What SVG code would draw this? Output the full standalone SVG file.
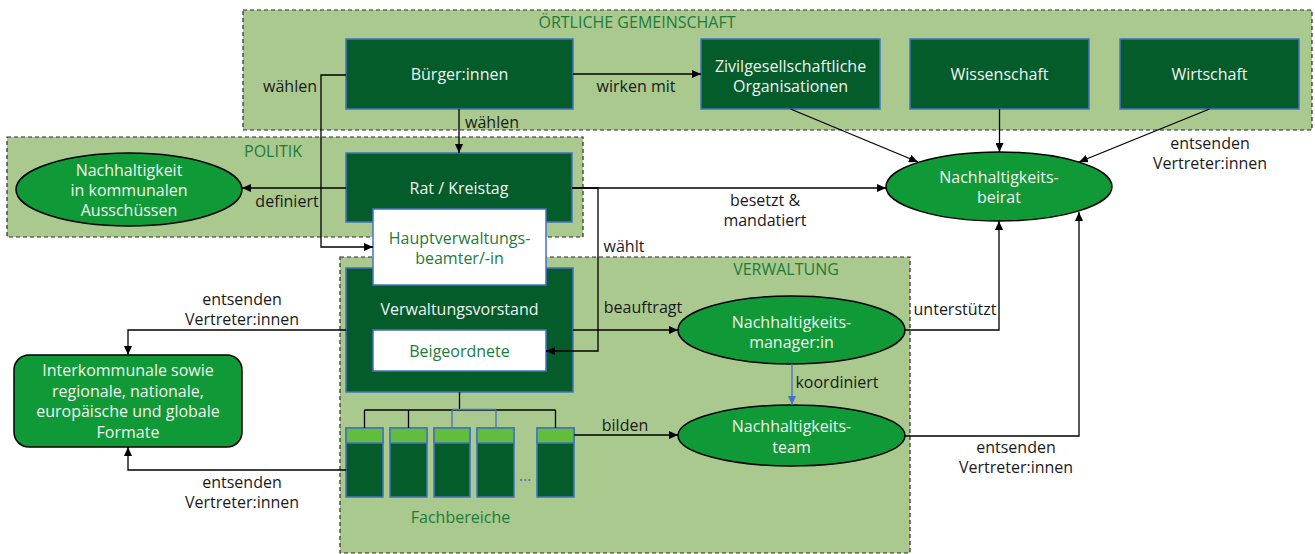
<svg xmlns="http://www.w3.org/2000/svg" width="1315" height="554" viewBox="0 0 1315 554">
<defs>
<marker id="arr" markerUnits="userSpaceOnUse" markerWidth="9" markerHeight="8" refX="9" refY="4" orient="auto"><path d="M0,0 L9,4 L0,8 z" fill="#000"/></marker>
<marker id="arrB" markerUnits="userSpaceOnUse" markerWidth="9" markerHeight="8" refX="9" refY="4" orient="auto"><path d="M0,0 L9,4 L0,8 z" fill="#4472C4"/></marker>
<style>
text{font-family:"Open Sans","Noto Sans","DejaVu Sans",sans-serif;font-size:16px;text-anchor:middle}
.region{fill:#A9C98E;stroke:#2b2b2b;stroke-width:1.2;stroke-dasharray:4 3}
.title{fill:#1E7B3A}
.box{fill:#035C2A;stroke:#4472C4;stroke-width:1.5}
.wbox{fill:#FFFFFF;stroke:#4472C4;stroke-width:1.5}
.ell{fill:#109A37;stroke:#000;stroke-width:1.5}
.wt{fill:#F2F2F2}
.gt{fill:#1E7B3A}
.lbl{fill:#1a1a1a}
.hdr{fill:#62BD3C;stroke:#4472C4;stroke-width:1.5}
.conn path{fill:none;stroke:#000;stroke-width:1.3}
.conn path.a{marker-end:url(#arr)}
.conn path.blue{stroke:#4472C4}
</style>
</defs>

<g id="region-oertliche">
<rect class="region" x="243" y="10" width="1069" height="120"/>
<text class="title" x="637" y="28">ÖRTLICHE GEMEINSCHAFT</text>
</g>
<g id="region-politik">
<rect class="region" x="7" y="137" width="576" height="100"/>
<text class="title" x="273" y="157">POLITIK</text>
</g>
<g id="region-verwaltung">
<rect class="region" x="340" y="257" width="570" height="296"/>
<text class="title" x="786" y="275">VERWALTUNG</text>
</g>

<g id="buerger">
<rect class="box" x="346" y="39" width="227" height="70"/>
<text class="wt" x="459.5" y="80">Bürger:innen</text>
</g>
<g id="zivil">
<rect class="box" x="701" y="39" width="179" height="70"/>
<text class="wt" x="790.5" y="71.5">Zivilgesellschaftliche</text>
<text class="wt" x="790.5" y="91.5">Organisationen</text>
</g>
<g id="wissenschaft">
<rect class="box" x="910" y="39" width="179" height="70"/>
<text class="wt" x="999.5" y="80">Wissenschaft</text>
</g>
<g id="wirtschaft">
<rect class="box" x="1120" y="39" width="179" height="70"/>
<text class="wt" x="1209.5" y="80">Wirtschaft</text>
</g>

<g id="ausschuesse">
<ellipse class="ell" cx="129" cy="189.5" rx="113" ry="36.5"/>
<text class="wt" x="129" y="176">Nachhaltigkeit</text>
<text class="wt" x="129" y="196">in kommunalen</text>
<text class="wt" x="129" y="216">Ausschüssen</text>
</g>
<g id="rat">
<rect class="box" x="346" y="153" width="226" height="69"/>
<text class="wt" x="459" y="194">Rat / Kreistag</text>
</g>

<g id="verwaltungsvorstand">
<rect class="box" x="346" y="268" width="227" height="124"/>
<text class="wt" x="459.5" y="315">Verwaltungsvorstand</text>
</g>
<g id="beigeordnete">
<rect class="wbox" x="373" y="330" width="173" height="41"/>
<text class="gt" x="459.5" y="357">Beigeordnete</text>
</g>
<g id="hauptverwaltung">
<rect class="wbox" x="373" y="209" width="173" height="76"/>
<text class="gt" x="459.5" y="243.5">Hauptverwaltungs-</text>
<text class="gt" x="459.5" y="263.5">beamter/-in</text>
</g>

<g id="beirat">
<ellipse class="ell" cx="999" cy="186.5" rx="113" ry="34.5"/>
<text class="wt" x="999" y="182.5">Nachhaltigkeits-</text>
<text class="wt" x="999" y="202.5">beirat</text>
</g>
<g id="manager">
<ellipse class="ell" cx="791.5" cy="330" rx="113.5" ry="34"/>
<text class="wt" x="791.5" y="327.5">Nachhaltigkeits-</text>
<text class="wt" x="791.5" y="347.5">manager:in</text>
</g>
<g id="team">
<ellipse class="ell" cx="791.5" cy="435.5" rx="113.5" ry="30.5"/>
<text class="wt" x="791.5" y="432">Nachhaltigkeits-</text>
<text class="wt" x="791.5" y="453">team</text>
</g>

<g id="interkommunal">
<rect x="14" y="355" width="228" height="92" rx="15" ry="15" fill="#109A37" stroke="#000" stroke-width="1.5"/>
<text class="wt" x="128" y="376">Interkommunale sowie</text>
<text class="wt" x="128" y="397">regionale, nationale,</text>
<text class="wt" x="128" y="417">europäische und globale</text>
<text class="wt" x="128" y="438">Formate</text>
</g>

<g id="fachbereiche">
<rect class="box" x="346" y="428" width="37" height="69"/>
<rect class="hdr" x="346" y="428" width="37" height="15"/>
<rect class="box" x="390" y="428" width="37" height="69"/>
<rect class="hdr" x="390" y="428" width="37" height="15"/>
<rect class="box" x="434" y="428" width="36" height="69"/>
<rect class="hdr" x="434" y="428" width="36" height="15"/>
<rect class="box" x="477" y="428" width="37" height="69"/>
<rect class="hdr" x="477" y="428" width="37" height="15"/>
<rect class="box" x="537" y="428" width="37" height="69"/>
<rect class="hdr" x="537" y="428" width="37" height="15"/>
<text x="525" y="481" fill="#4472C4">...</text>
<text class="gt" x="460.5" y="523">Fachbereiche</text>
</g>

<g id="connectors" class="conn">
<path class="a" d="M459,109 V153"/>
<path class="a" d="M346,75 H321 V247 H373"/>
<path class="a" d="M573,74 H701"/>
<path class="a" d="M346,188 H242"/>
<path class="a" d="M572,188 H886"/>
<path class="a" d="M572,188 H598 V351 H546"/>
<path class="a" d="M790.5,109 L918,162"/>
<path class="a" d="M999.5,109 V152"/>
<path class="a" d="M1209.5,109 L1079,162"/>
<path class="a" d="M573,330 H678"/>
<path class="a" d="M905,330 H999 V221"/>
<path class="blue" d="M792,364 V405" style="marker-end:url(#arrB)"/>
<path class="a" d="M574,435 H678"/>
<path class="a" d="M905,436 H1079 V212"/>
<path class="a" d="M346,330 H128 V355"/>
<path class="a" d="M346,470 H128 V447"/>
<path d="M459.5,392 V410 M364.5,410 H555.5 M364.5,410 V428 M408.5,410 V428 M555.5,410 V428"/>
<path class="blue" d="M452,409.5 H496 M452,410 V428 M496,410 V428"/>
</g>

<g id="labels">
<text class="lbl" x="290" y="92">wählen</text>
<text class="lbl" x="492" y="128">wählen</text>
<text class="lbl" x="636" y="92">wirken mit</text>
<text class="lbl" x="287" y="207">definiert</text>
<text class="lbl" x="624" y="252">wählt</text>
<text class="lbl" x="765" y="206">besetzt &amp;</text>
<text class="lbl" x="765" y="226">mandatiert</text>
<text class="lbl" x="1210" y="149">entsenden</text>
<text class="lbl" x="1210" y="169">Vertreter:innen</text>
<text class="lbl" x="643" y="313">beauftragt</text>
<text class="lbl" x="955" y="315">unterstützt</text>
<text class="lbl" x="837" y="388">koordiniert</text>
<text class="lbl" x="625" y="431">bilden</text>
<text class="lbl" x="1016" y="453">entsenden</text>
<text class="lbl" x="1016" y="473">Vertreter:innen</text>
<text class="lbl" x="242" y="305">entsenden</text>
<text class="lbl" x="242" y="325">Vertreter:innen</text>
<text class="lbl" x="242" y="488">entsenden</text>
<text class="lbl" x="242" y="508">Vertreter:innen</text>
</g>
</svg>
